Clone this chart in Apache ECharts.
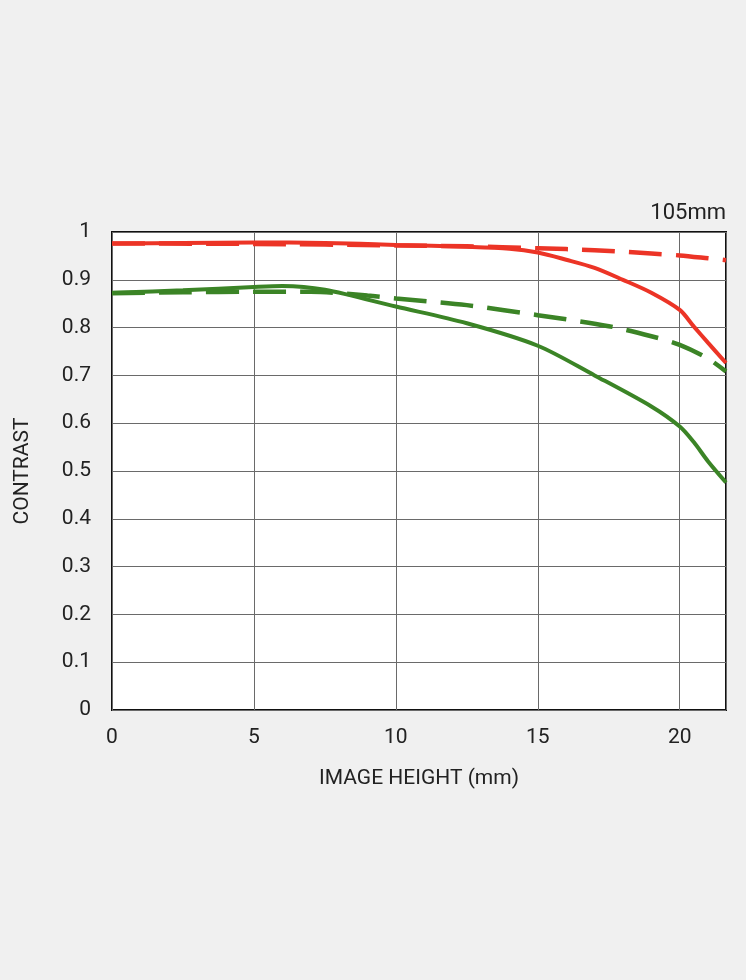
<!DOCTYPE html>
<html>
<head>
<meta charset="utf-8">
<script src="https://cdn.jsdelivr.net/npm/echarts@6/dist/echarts.min.js"></script>
<style>
html,body{margin:0;padding:0;background:#f0f0f0;}
#c{width:746px;height:980px;}
</style>
</head>
<body>
<div id="c"></div>
<script>
var title = '105mm';
var xTicks = [0, 5, 10, 15, 20];
var xMax = 21.63;

var redSolidX = [0, 2.5, 5, 7.5, 10, 12.5, 14, 15, 16, 17, 18, 19, 20, 20.5, 21, 21.63];
var redSolidY = [0.976, 0.977, 0.978, 0.977, 0.973, 0.969, 0.965, 0.957, 0.942, 0.925, 0.900, 0.873, 0.837, 0.802, 0.768, 0.726];

var redDashX = [0, 5, 10, 12.5, 15, 17, 19, 20, 21, 21.63];
var redDashY = [0.976, 0.975, 0.972, 0.970, 0.966, 0.962, 0.955, 0.951, 0.945, 0.941];

var greenSolidX = [0, 2.5, 5, 6, 7.5, 10, 12.5, 15, 17, 19, 20, 20.5, 21, 21.63];
var greenSolidY = [0.873, 0.878, 0.885, 0.887, 0.879, 0.844, 0.809, 0.762, 0.700, 0.635, 0.593, 0.560, 0.520, 0.476];

var greenDashX = [0, 2.5, 5, 7, 9, 10, 12.5, 15, 17.5, 19, 20, 21, 21.63];
var greenDashY = [0.872, 0.874, 0.875, 0.875, 0.867, 0.861, 0.847, 0.826, 0.803, 0.782, 0.764, 0.735, 0.708];

function pairs(xs, ys) { return xs.map(function (x, i) { return [x, ys[i]]; }); }

var RED = '#ec3426';
var GREEN = '#3b8426';
var FONT = 'Roboto';

var chart = echarts.init(document.getElementById('c'));
chart.setOption({
  animation: false,
  backgroundColor: '#f0f0f0',
  textStyle: { fontFamily: FONT },
  title: {
    text: title, right: 20, top: 202, padding: 0,
    textStyle: { fontSize: 22, fontWeight: 'normal', color: '#222', fontFamily: FONT }
  },
  grid: {
    left: 112, right: 20, top: 232, bottom: 270,
    show: true, backgroundColor: '#fff', borderColor: '#111', borderWidth: 2
  },
  xAxis: {
    type: 'value', min: 0, max: xMax, interval: 5,
    name: 'IMAGE HEIGHT (mm)', nameLocation: 'middle', nameGap: 58,
    nameTextStyle: { fontSize: 21, color: '#222', fontFamily: FONT },
    axisLine: { show: false }, axisTick: { show: false },
    axisLabel: { fontSize: 21, color: '#222', margin: 17, fontFamily: FONT,
      customValues: xTicks },
    splitLine: { show: true, lineStyle: { color: '#6a6a6a', width: 1 } }
  },
  yAxis: {
    type: 'value', min: 0, max: 1, interval: 0.1,
    name: 'CONTRAST', nameLocation: 'middle', nameGap: 79, nameRotate: 90,
    nameTextStyle: { fontSize: 21, color: '#222', fontFamily: FONT },
    axisLine: { show: false }, axisTick: { show: false },
    axisLabel: { fontSize: 21, color: '#222', margin: 21, fontFamily: FONT,
      padding: [4, 0, 0, 0],
      formatter: function (v) { return String(Math.round(v * 10) / 10); } },
    splitLine: { show: true, lineStyle: { color: '#6a6a6a', width: 1 } }
  },
  series: [
    { type: 'line', data: pairs(redDashX, redDashY), smooth: 0.3, symbol: 'none', z: 2,
      lineStyle: { color: RED, width: 4.5, type: [33, 14] } },
    { type: 'line', data: pairs(greenDashX, greenDashY), smooth: 0.3, symbol: 'none', z: 2,
      lineStyle: { color: GREEN, width: 4.5, type: [33, 14] } },
    { type: 'line', data: pairs(greenSolidX, greenSolidY), smooth: 0.3, symbol: 'none', z: 3,
      lineStyle: { color: GREEN, width: 4 } },
    { type: 'line', data: pairs(redSolidX, redSolidY), smooth: 0.3, symbol: 'none', z: 3,
      lineStyle: { color: RED, width: 4 } }
  ]
});
</script>
</body>
</html>
